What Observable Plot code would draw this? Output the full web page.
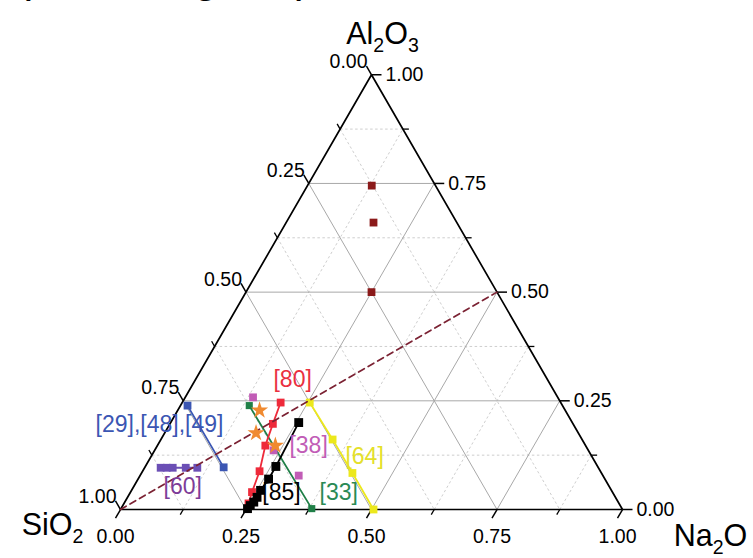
<!DOCTYPE html>
<html>
<head>
<meta charset="utf-8">
<script src="https://cdn.jsdelivr.net/npm/d3@7"></script>
<script src="https://cdn.jsdelivr.net/npm/@observablehq/plot@0.6"></script>
<style>
html,body{margin:0;padding:0;background:#fff;overflow:hidden;}
#wrap{position:relative;width:753px;height:558px;overflow:hidden;}
#cut{position:absolute;left:16px;top:-46px;font:45px/45px "Liberation Sans",Arial,sans-serif;color:#000;white-space:nowrap;z-index:2;}
#chart{position:absolute;left:0;top:0;}
</style>
</head>
<body>
<div id="wrap"><div id="cut">(from diagram)</div><div id="chart"></div></div>
<script>
// ---------- data: every point is [SiO2, Al2O3, Na2O] ----------
const axisNames = ["SiO2", "Al2O3", "Na2O"];
const majorTicks = [0, 0.25, 0.5, 0.75, 1];
const minorTicks = [0.125, 0.375, 0.625, 0.875];
const gridMajor = [0.25, 0.5, 0.75];
const gridMinor = [0.125, 0.375, 0.625, 0.875];

const refMaroon = [[0.127, 0.745, 0.128], [0.166, 0.660, 0.174], [0.250, 0.500, 0.250]];
const ref29_48_49 = [[0.747, 0.239, 0.014], [0.746, 0.097, 0.157]];
const ref60 = [[0.872, 0.096, 0.032], [0.860, 0.096, 0.044], [0.848, 0.096, 0.056], [0.822, 0.096, 0.082], [0.799, 0.096, 0.105]];
const ref80 = [[0.558, 0.246, 0.196], [0.598, 0.197, 0.205], [0.638, 0.147, 0.215], [0.679, 0.088, 0.233], [0.718, 0.040, 0.242], [0.738, 0.014, 0.248]];
const ref85 = [[0.545, 0.200, 0.255], [0.641, 0.099, 0.260], [0.670, 0.070, 0.260], [0.699, 0.044, 0.257], [0.714, 0.028, 0.258], [0.726, 0.017, 0.257], [0.737, 0.009, 0.254], [0.746, 0.002, 0.252]];
const ref33 = [[0.624, 0.239, 0.137], [0.618, 0.002, 0.380]];
const ref64 = [[0.500, 0.246, 0.254], [0.497, 0.161, 0.342], [0.496, 0.084, 0.420], [0.496, 0.000, 0.504]];
const ref38 = [[0.607, 0.258, 0.135], [0.627, 0.136, 0.237], [0.606, 0.078, 0.316]];
const refStars = [[0.609, 0.228, 0.163], [0.642, 0.176, 0.182], [0.618, 0.147, 0.235]];
const ratioLine = [[1, 0, 0], [0, 0.5, 0.5]];
const vertices = [[1, 0, 0], [0, 1, 0], [0, 0, 1], [1, 0, 0]];

// ---------- ternary projection ----------
const S3 = Math.sqrt(3) / 2;
const P = ([si, al, na]) => { const t = si + al + na; return {x: (na + al / 2) / t, y: (al / t) * S3}; };
const PX = 1 / 502; // one pixel in data units

function grid(vals) {
  const out = [];
  for (const v of vals) {
    out.push([P([1 - v, v, 0]), P([0, v, 1 - v])]);
    out.push([P([1 - v, 0, v]), P([0, 1 - v, v])]);
    out.push([P([v, 1 - v, 0]), P([v, 0, 1 - v])]);
  }
  return out.map(([a, b]) => ({x1: a.x, y1: a.y, x2: b.x, y2: b.y}));
}
function ticks(vals, len) {
  const out = [];
  for (const v of vals) {
    const a = P([v, 1 - v, 0]);
    out.push({axis: "L", v, x1: a.x, y1: a.y, x2: a.x - 0.5 * len, y2: a.y + S3 * len});
    const b = P([1 - v, 0, v]);
    out.push({axis: "B", v, x1: b.x, y1: b.y, x2: b.x - 0.5 * len, y2: b.y - S3 * len});
    const c = P([0, v, 1 - v]);
    out.push({axis: "R", v, x1: c.x, y1: c.y, x2: c.x + len, y2: c.y});
  }
  return out;
}
const majorT = ticks(majorTicks, 10 * PX);
const minorT = ticks(minorTicks, 6 * PX);
const fmt = d3.format(".2f");
majorT.forEach(d => d.label = fmt(d.v));

const lk = {x1: "x1", y1: "y1", x2: "x2", y2: "y2"};
const FONT = "Liberation Sans, Arial, Helvetica, sans-serif";

const series = [
  {pts: refMaroon, color: "#8b1a1a", line: false, r: 4.4},
  {pts: ref29_48_49, color: "#3b56b3", line: true, r: 4.4, label: "[29],[48],[49]", li: 0, dx: -28, dy: 19, lc: "#3b56b3"},
  {pts: ref60, color: "#6b4fb5", line: true, r: 4.4, label: "[60]", li: 2, dx: 10, dy: 19, lc: "#7d3c98"},
  {pts: ref33, color: "#1f7f47", line: true, r: 4, label: "[33]", li: 1, dx: 27, dy: -16, lc: "#2a8a55"},
  {pts: ref64, color: "#ece81c", line: true, r: 4.4, label: "[64]", li: 1, dx: 32, dy: 17, lc: "#e4e02a"},
  {pts: ref38, color: "#c15cb6", line: false, r: 4.4, label: "[38]", li: 1, dx: 35, dy: -5, lc: "#c15cb6"},
  {pts: ref80, color: "#ee2a3a", line: true, r: 4.4, label: "[80]", li: 0, dx: 12, dy: -23, lc: "#ea3040"},
  {pts: ref85, color: "#000000", line: true, r: 5, label: "[85]", li: 3, dx: 21, dy: 2, lc: "#000000"}
];

const marks = [
  Plot.link(grid(gridMinor), {...lk, stroke: "#c8c8c8", strokeWidth: 0.9, strokeDasharray: "2.5,2.5"}),
  Plot.link(grid(gridMajor), {...lk, stroke: "#a8a8a8", strokeWidth: 1}),
  Plot.line(vertices.map(P), {x: "x", y: "y", stroke: "#000", strokeWidth: 1.7, strokeLinejoin: "miter"}),
  Plot.link(majorT, {...lk, stroke: "#000", strokeWidth: 1.5}),
  Plot.link(minorT, {...lk, stroke: "#000", strokeWidth: 1.3}),
  Plot.text(majorT.filter(d => d.axis === "L"), {x: "x2", y: "y2", text: "label", textAnchor: "end", dx: 1, dy: -4, fontSize: 19.5, fill: "#000"}),
  Plot.text(majorT.filter(d => d.axis === "B"), {x: "x2", y: "y2", text: "label", textAnchor: "middle", dy: 19, fontSize: 19.5, fill: "#000"}),
  Plot.text(majorT.filter(d => d.axis === "R"), {x: "x2", y: "y2", text: "label", textAnchor: "start", dx: 4, fontSize: 19.5, fill: "#000"})
];
for (const s of series) {
  const pts = s.pts.map(P);
  if (s.line) marks.push(Plot.line(pts, {x: "x", y: "y", stroke: s.color, strokeWidth: 1.8}));
  marks.push(Plot.dot(pts, {x: "x", y: "y", symbol: "square", fill: s.color, r: s.r}));
}
marks.push(Plot.line(ratioLine.map(P), {x: "x", y: "y", stroke: "#7b2233", strokeWidth: 1.7, strokeDasharray: "6.5,4.5"}));
marks.push(Plot.dot(refStars.map(P), {x: "x", y: "y", symbol: "star", fill: "#f08a30", r: 5.4}));
for (const s of series) {
  if (!s.label) continue;
  const a = P(s.pts[s.li]);
  marks.push(Plot.text([{...a, t: s.label}], {x: "x", y: "y", text: "t", fill: s.lc, dx: s.dx, dy: s.dy, fontSize: 23}));
}
// axis titles anchored on their vertices
const titleDefs = [
  {name: axisNames[1], v: vertices[1], dx: 11, dy: -41},
  {name: axisNames[0], v: vertices[0], dx: -68, dy: 16},
  {name: axisNames[2], v: vertices[2], dx: 88, dy: 27}
];
for (const t of titleDefs) {
  marks.push(Plot.text([{...P(t.v), t: t.name}], {x: "x", y: "y", text: "t", dx: t.dx, dy: t.dy, fontSize: 30.5, fill: "#000", className: "chem"}));
}

const svg = Plot.plot({
  width: 753, height: 558, margin: 0,
  x: {domain: [0, 1], range: [120, 622], axis: null},
  y: {domain: [0, S3], range: [509, 509 - 502 * S3], axis: null},
  style: {fontFamily: FONT, background: "white", overflow: "visible"},
  marks
});
document.getElementById("chart").appendChild(svg);

// subscripts for chemical formulas
d3.select(svg).selectAll(".chem text").each(function () {
  const t = this.textContent;
  const sel = d3.select(this);
  sel.text(null);
  const parts = t.match(/[A-Za-z]+|\d+/g);
  let low = false;
  for (const p of parts) {
    const ts = sel.append("tspan").text(p);
    if (/\d/.test(p)) { ts.attr("font-size", "0.64em").attr("dy", 8); low = true; }
    else if (low) { ts.attr("dy", -8); low = false; }
  }
});
</script>
</body>
</html>
